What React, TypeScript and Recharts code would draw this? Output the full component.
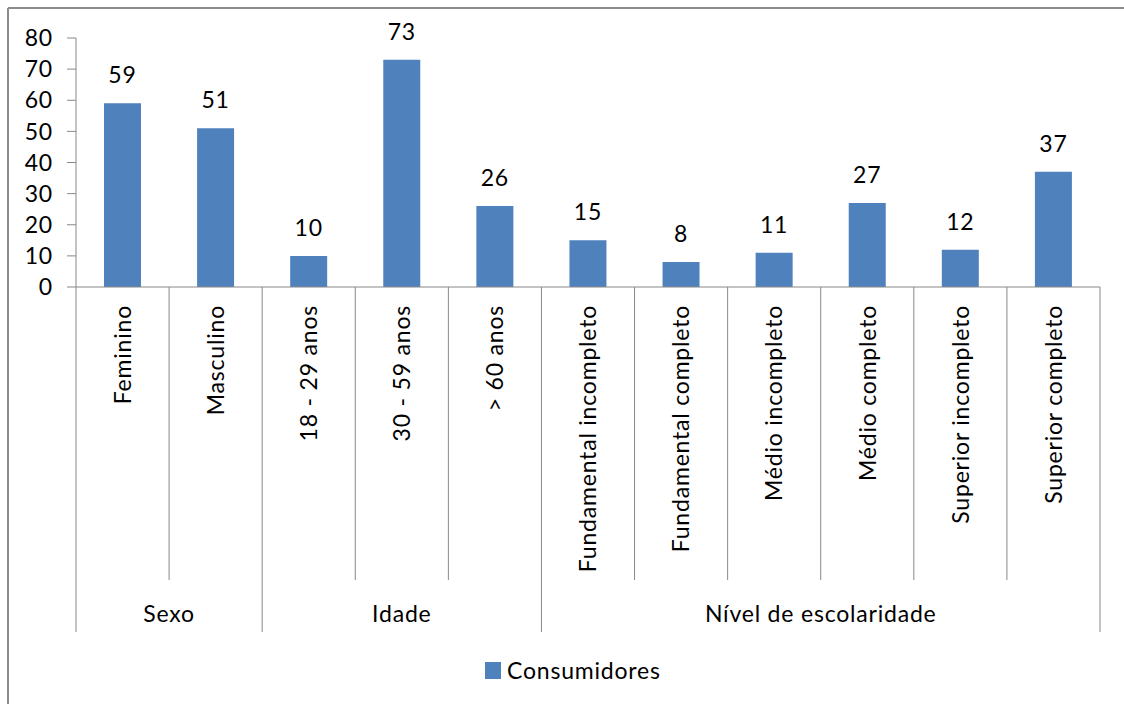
import { BarChart, Bar, XAxis, YAxis, LabelList, Legend } from 'recharts';

const categories = [
	'Feminino',
	'Masculino',
	'18 - 29 anos',
	'30 - 59 anos',
	'> 60 anos',
	'Fundamental incompleto',
	'Fundamental completo',
	'Médio incompleto',
	'Médio completo',
	'Superior incompleto',
	'Superior completo',
];
const groupOf = [
	'Sexo',
	'Sexo',
	'Idade',
	'Idade',
	'Idade',
	'Nível de escolaridade',
	'Nível de escolaridade',
	'Nível de escolaridade',
	'Nível de escolaridade',
	'Nível de escolaridade',
	'Nível de escolaridade',
];
const consumidores = [59, 51, 10, 73, 26, 15, 8, 11, 27, 12, 37];
const yTicks = [0, 10, 20, 30, 40, 50, 60, 70, 80];

const data = categories.map((name, i) => ({ name, group: groupOf[i], value: consumidores[i] }));

const W = 1124;
const H = 704;
const LEFT = 76;
const RIGHT = 24;
const TOP = 38;
const AXIS_Y = 287;
const BAND = (W - LEFT - RIGHT) / categories.length;
const FONT = 'Lato, Calibri, sans-serif';
const SPACING = 0.8;
const GRID = '#888888';
const FRAME = '#8c8c8c';
const BLUE = '#4F81BD';

const CategoryTick = (props: any) => {
	const { x, payload } = props;
	const i = payload.index;
	const group = groupOf[i];
	const isStart = i === 0 || groupOf[i - 1] !== group;
	const isLast = i === categories.length - 1;
	const left = x - BAND / 2;
	let groupLabel = null;
	if (isStart) {
		let last = i;
		while (last + 1 < groupOf.length && groupOf[last + 1] === group) last++;
		const cx = x + ((last - i) / 2) * BAND;
		groupLabel = (
			<text
				x={cx}
				y={622}
				textAnchor='middle'
				fill='#000'
				fontSize={23}
				fontFamily={FONT}
				letterSpacing={SPACING}
			>
				{group}
			</text>
		);
	}
	return (
		<g>
			<line x1={left} x2={left} y1={AXIS_Y} y2={isStart ? 632 : 580} stroke={GRID} strokeWidth={1} />
			{isLast && (
				<line x1={x + BAND / 2} x2={x + BAND / 2} y1={AXIS_Y} y2={632} stroke={GRID} strokeWidth={1} />
			)}
			<text
				x={x}
				y={305}
				transform={`rotate(-90 ${x} 305)`}
				textAnchor='end'
				dy='0.36em'
				fill='#000'
				fontSize={23}
				fontFamily={FONT}
				letterSpacing={SPACING}
			>
				{payload.value}
			</text>
			{groupLabel}
		</g>
	);
};

const renderLegend = () => (
	<div
		style={{
			display: 'flex',
			alignItems: 'center',
			fontFamily: FONT,
			fontSize: 23,
			letterSpacing: SPACING,
			color: '#000',
			whiteSpace: 'nowrap',
		}}
	>
		<span style={{ display: 'inline-block', width: 16, height: 17, background: BLUE, marginRight: 6 }} />
		<span>Consumidores</span>
	</div>
);

const App = () => {
	return (
		<div style={{ position: 'relative', width: W, height: H, overflow: 'hidden', background: '#fff' }}>
			<style>{'body { margin: 0; }'}</style>
			<BarChart
				width={W}
				height={H}
				data={data}
				margin={{ top: TOP, right: RIGHT, left: 0, bottom: 0 }}
				barCategoryGap={0}
				style={{ outline: 'none' }}
			>
				<YAxis
					width={LEFT}
					domain={[0, 80]}
					ticks={yTicks}
					interval={0}
					tickSize={9}
					tickMargin={14}
					axisLine={{ stroke: GRID }}
					tickLine={{ stroke: GRID }}
					tick={{ fill: '#000', fontSize: 23, fontFamily: FONT, letterSpacing: SPACING }}
				/>
				<XAxis
					dataKey='name'
					height={H - AXIS_Y}
					interval={0}
					tickLine={false}
					axisLine={{ stroke: GRID }}
					tick={<CategoryTick />}
				/>
				<Legend
					layout='vertical'
					verticalAlign='middle'
					align='center'
					content={renderLegend}
					wrapperStyle={{ left: 485, top: 656, width: 'auto' }}
				/>
				<Bar dataKey='value' name='Consumidores' fill={BLUE} barSize={37} isAnimationActive={false}>
					<LabelList
						dataKey='value'
						position='top'
						offset={20}
						fill='#000'
						fontSize={23}
						fontFamily={FONT}
						letterSpacing={SPACING}
					/>
				</Bar>
			</BarChart>
			{/* outer frame: only its top and left edges fall inside the picture */}
			<svg width={W} height={H} style={{ position: 'absolute', left: 0, top: 0, pointerEvents: 'none' }}>
				<line x1={8} x2={W} y1={8} y2={8} stroke={FRAME} strokeWidth={2} />
				<line x1={8} x2={8} y1={8} y2={H} stroke={FRAME} strokeWidth={2} />
			</svg>
		</div>
	);
};

export default App;
